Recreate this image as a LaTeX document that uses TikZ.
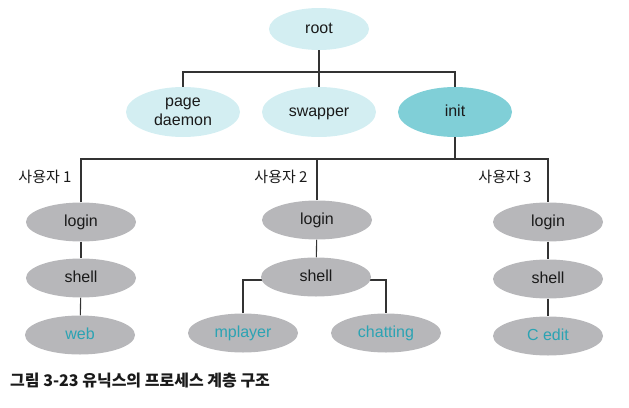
\documentclass[tikz,border=0pt]{standalone}
\usepackage{fontspec}
\setsansfont{Liberation Sans}
\newfontfamily\kofont{Noto Sans CJK KR}
\usepackage{xcolor}
\definecolor{ink}{HTML}{1A1A1A}
\definecolor{skycyan}{HTML}{D3EEF2}
\definecolor{initteal}{HTML}{80CFD7}
\definecolor{procgray}{HTML}{B7B7BA}
\definecolor{leafteal}{HTML}{2BA3B3}
\definecolor{rulegray}{HTML}{333333}
\usetikzlibrary{shapes.geometric,backgrounds}

\begin{document}
\begin{tikzpicture}[
  x=1pt, y=-1pt,
  font=\sffamily\fontsize{16}{17}\selectfont, text=ink,
  oneline/.style={text height=11pt, text depth=2pt},
  sysproc/.style={ellipse, fill=skycyan, inner sep=0pt, align=center,
                  minimum width=114pt, minimum height=50pt},
  userproc/.style={ellipse, fill=procgray, inner sep=0pt, oneline,
                   minimum width=110pt, minimum height=39pt},
  leafproc/.style={userproc, text=leafteal},
  userlbl/.style={font=\kofont\fontsize{15}{16}\selectfont, inner sep=0pt},
  link/.style={rulegray, line width=1.1pt}
]
  \useasboundingbox (0,0) rectangle (629,407);

  % system processes
  \node[sysproc, oneline, minimum width=100pt, minimum height=42pt] (root) at (319,29) {root};
  \node[sysproc] (pdaemon) at (183,112) {page\\[2pt]daemon};
  \node[sysproc, oneline] (swapper) at (319,112) {swapper};
  \node[sysproc, oneline, fill=initteal] (init) at (455,112) {init};

  % users
  \node[userlbl] (user1) at (45,177) {사용자 1};
  \node[userlbl] (user2) at (281,177) {사용자 2};
  \node[userlbl] (user3) at (505,177) {사용자 3};

  \node[userproc] (login1) at (81,222) {login};
  \node[userproc] (login2) at (317,220) {login};
  \node[userproc] (login3) at (548,222) {login};
  \node[userproc] (shell1) at (81,278) {shell};
  \node[userproc] (shell2) at (316,277) {shell};
  \node[userproc] (shell3) at (548,279) {shell};
  \node[leafproc] (web)      at (80,335)  {web};
  \node[leafproc] (mplayer)  at (243,333) {mplayer};
  \node[leafproc] (chatting) at (386,333) {chatting};
  \node[leafproc] (cedit)    at (548,336) {C edit};

  \node[anchor=west, inner sep=0pt, font=\kofont\bfseries\fontsize{16}{17}\selectfont]
        (caption) at (10,381) {그림 3-23 유닉스의 프로세스 계층 구조};

  \coordinate (topbus) at (319,72);
  \coordinate (userbus) at (455,159);
  \coordinate (shellbus) at (316,280);

  \begin{scope}[on background layer]
    \draw[link] (root) -- (swapper);
    \draw[link] (pdaemon.north) |- (topbus) -| (init.north);
    \draw[link] (init) -- (userbus);
    \draw[link] (login1) |- (userbus) -| (login3);
    \draw[link] (login2) -- (login2 |- userbus);
    \draw[link] (login1) -- (shell1);
    \draw[link] (login2) -- (shell2);
    \draw[link] (login3) -- (shell3);
    \draw[link] (shell1) -- (web);
    \draw[link] (shell3) -- (cedit);
    \draw[link] (mplayer) |- (shellbus) -| (chatting);
  \end{scope}
\end{tikzpicture}
\end{document}
